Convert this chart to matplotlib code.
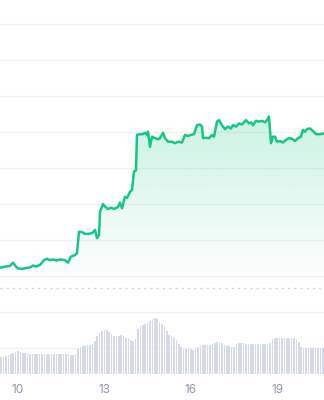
import numpy as np
import matplotlib
matplotlib.use("Agg")
import matplotlib.pyplot as plt
from matplotlib.colors import to_rgb

# price series (day of month, price in chart units)
price_days = [9.375, 9.549, 9.722, 9.826, 9.931, 10.0, 10.139, 10.278, 10.417, 10.521,
              10.625, 10.764, 10.903, 11.007, 11.111, 11.215, 11.354, 11.458, 11.632, 11.736,
              11.840, 11.979, 12.049, 12.118, 12.222, 12.326, 12.431, 12.569, 12.674, 12.743,
              12.813, 12.847, 12.951, 13.021, 13.125, 13.229, 13.333, 13.472, 13.542, 13.611,
              13.715, 13.785, 13.889, 13.958, 14.028, 14.097, 14.132, 14.236, 14.340, 14.410,
              14.479, 14.514, 14.583, 14.653, 14.757, 14.861, 14.931, 15.035, 15.104, 15.208,
              15.347, 15.451, 15.556, 15.694, 15.799, 15.903, 16.007, 16.111, 16.215, 16.319,
              16.389, 16.424, 16.528, 16.632, 16.736, 16.806, 16.910, 16.979, 17.083, 17.188,
              17.292, 17.396, 17.465, 17.569, 17.674, 17.778, 17.917, 18.021, 18.090, 18.160,
              18.264, 18.368, 18.472, 18.576, 18.646, 18.715, 18.785, 18.854, 18.924, 18.993,
              19.097, 19.201, 19.306, 19.410, 19.514, 19.618, 19.722, 19.826, 19.896, 19.965,
              20.035, 20.139, 20.243, 20.347, 20.486, 20.625]
prices = [0.23, 0.26, 0.28, 0.37, 0.26, 0.21, 0.20, 0.22, 0.24, 0.29,
          0.26, 0.31, 0.44, 0.48, 0.44, 0.46, 0.43, 0.46, 0.44, 0.37,
          0.54, 0.58, 0.64, 1.23, 1.22, 1.17, 1.17, 1.19, 1.28, 1.05,
          1.14, 1.78, 2.00, 1.93, 1.86, 1.90, 1.86, 1.92, 2.04, 1.88,
          2.20, 2.17, 2.34, 2.39, 2.90, 2.94, 3.92, 3.94, 3.94, 3.98,
          3.92, 4.01, 3.59, 3.87, 3.83, 3.80, 3.83, 3.98, 3.83, 3.73,
          3.73, 3.69, 3.73, 3.71, 3.92, 3.89, 3.92, 3.94, 4.19, 4.21,
          4.15, 3.83, 3.84, 3.83, 3.92, 3.87, 4.29, 4.33, 4.19, 4.08,
          4.15, 4.10, 4.19, 4.15, 4.24, 4.21, 4.33, 4.24, 4.27, 4.19,
          4.31, 4.29, 4.31, 4.27, 4.33, 4.43, 3.69, 3.87, 3.87, 3.73,
          3.75, 3.71, 3.78, 3.83, 3.81, 3.75, 3.83, 3.87, 4.06, 4.01,
          4.08, 4.10, 4.03, 3.94, 3.94, 3.96]

# volume, one bar every 2 hours starting at day 9.375
vol_start = 9.375
volumes = [17, 17, 18, 19, 20, 21, 22, 23, 22, 21,
           21, 20, 20, 20, 20, 20, 20, 20, 20, 20,
           20, 20, 20, 20, 20, 20, 20, 20, 20, 19,
           19, 20, 25, 27, 28, 28, 29, 29, 30, 33,
           38, 41, 43, 44, 44, 42, 40, 38, 38, 38,
           39, 38, 36, 36, 34, 33, 35, 45, 48, 49,
           50, 51, 53, 55, 56, 55, 52, 50, 48, 43,
           39, 37, 36, 34, 30, 27, 25, 25, 25, 25,
           24, 26, 27, 28, 29, 29, 29, 29, 30, 31,
           32, 32, 31, 29, 28, 28, 27, 27, 30, 31,
           31, 31, 30, 30, 30, 30, 30, 30, 30, 30,
           30, 30, 31, 35, 36, 36, 36, 36, 36, 36,
           36, 36, 36, 35, 32, 27, 26, 26, 26, 26,
           26, 26, 26, 26, 26]
x_ticks = [10, 13, 16, 19]
x_labels = ["10", "13", "16", "19"]
start_price = -0.333

green = "#16c784"
x0, x1 = 9.375, 20.625

fig = plt.figure(figsize=(3.24, 4.0), dpi=100)
ax = fig.add_axes([0, 0.065, 1, 0.935])

# volume on its own scale at the bottom
vx = ax.twinx()
vx.set_ylim(0, 374)
vx.set_axis_off()
vdays = vol_start + np.arange(len(volumes)) / 12.0 + 1 / 24.0
vx.bar(vdays, volumes, width=0.05, color="#d6dae8", linewidth=0)

for s in ax.spines.values():
    s.set_visible(False)
ax.set_yticks(range(-2, 8))
ax.yaxis.grid(True, color="#f1f1f3", linewidth=1)
ax.tick_params(axis="y", left=False, right=False, labelleft=False, labelright=False)
ax.set_xticks(x_ticks)
ax.set_xticklabels(x_labels)
ax.tick_params(axis="x", length=0, pad=7, labelsize=8.5, labelcolor="#8e97a8")
for t in ax.get_xticklabels():
    t.set_fontfamily("Inter")
ax.set_axisbelow(True)

# start price reference line
ax.axhline(start_price, color="#cfd3da", linewidth=1, linestyle=(0, (1.5, 3)))

# gradient fill under the price line
px = np.array(price_days)
py = np.array(prices)
poly = ax.fill_between(px, py, start_price, color="none", linewidth=0)
top = py.max()
grad = np.zeros((100, 1, 4))
grad[:, 0, :3] = to_rgb(green)
grad[:, 0, 3] = np.linspace(0.22, 0.0, 100)
img = ax.imshow(grad, aspect="auto", extent=[x0, x1, start_price, top],
                origin="upper", zorder=1)
img.set_clip_path(poly.get_paths()[0], transform=ax.transData)

ax.plot(px, py, color=green, linewidth=1.8, zorder=3, solid_joinstyle="round")

ax.set_xlim(x0, x1)
ax.set_ylim(-2.722, 7.667)
fig.savefig("out.png", dpi=100)
